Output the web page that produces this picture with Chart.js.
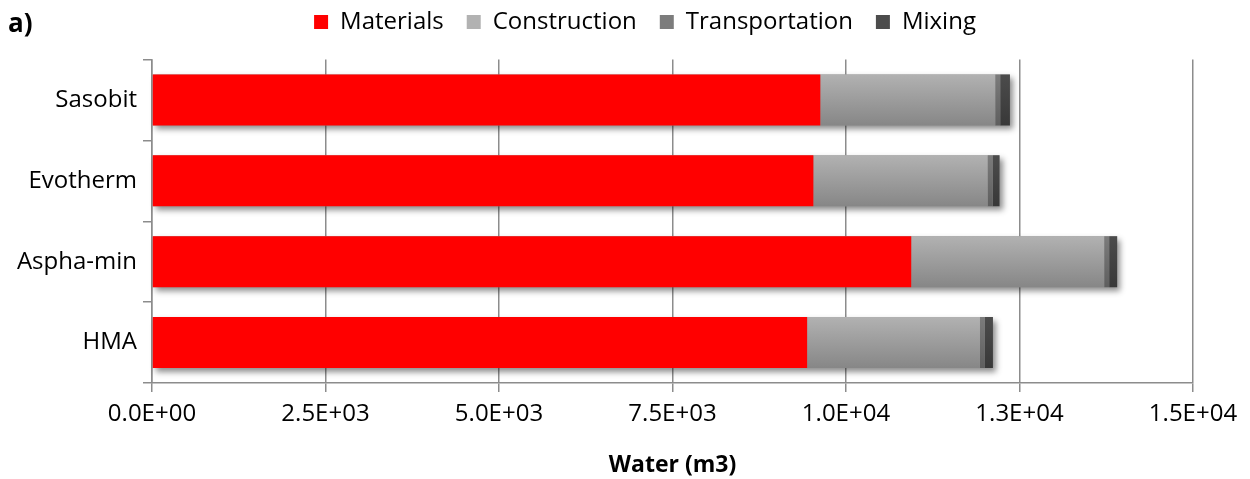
<!DOCTYPE html>
<html>
<head>
<meta charset="utf-8">
<script src="https://cdn.jsdelivr.net/npm/chart.js@4.4.1/dist/chart.umd.min.js"></script>
<style>
    body { margin: 0; background: #fff; }
    .wrap { position: relative; width: 1250px; height: 479px; }
    .panel { position: absolute; left: 8px; top: 4px; font: bold 26px 'Open Sans', sans-serif; color: #000; }
</style>
</head>
<body>
<div class="wrap">
    <canvas id="chart" width="1250" height="479"></canvas>
    <div class="panel">a)</div>
</div>
<script>
const categories = ['Sasobit', 'Evotherm', 'Aspha-min', 'HMA'];

const materials = [9630, 9530, 10940, 9440];
const construction = [2520, 2510, 2780, 2490];
const transportation = [72, 72, 72, 72];
const mixing = [140, 100, 115, 115];

const FONT = "'Open Sans', sans-serif";
const AXIS_GREY = '#8c8c8c';

// vertical shading for the grey segments, one gradient per bar
const shaded = (top, bottom, flat) => (context) => {
    const { chart, dataIndex } = context;
    if (dataIndex === undefined || !chart.chartArea) return flat;
    const y = chart.scales.y.getPixelForValue(dataIndex);
    const g = chart.ctx.createLinearGradient(0, y - 26, 0, y + 26);
    g.addColorStop(0, top);
    g.addColorStop(1, bottom);
    return g;
};

// soft drop shadow behind each full stacked bar
const barShadow = {
    id: 'barShadow',
    beforeDatasetsDraw(chart) {
        const first = chart.getDatasetMeta(0).data;
        const last = chart.getDatasetMeta(chart.data.datasets.length - 1).data;
        const ctx = chart.ctx;
        ctx.save();
        ctx.shadowColor = 'rgba(0, 0, 0, 0.45)';
        ctx.shadowBlur = 6;
        ctx.shadowOffsetX = 3;
        ctx.shadowOffsetY = 4;
        ctx.fillStyle = '#999';
        first.forEach((bar, i) => {
            const h = bar.height;
            ctx.fillRect(bar.base, bar.y - h / 2, last[i].x - bar.base, h);
        });
        ctx.restore();
    }
};

// fixed legend band height, and nudge the legend row to the right
const legendBand = {
    id: 'legendBand',
    beforeInit(chart) {
        const fit = chart.legend.fit;
        chart.legend.fit = function () {
            fit.bind(this)();
            this.height = 72.5;
        };
    },
    afterLayout(chart) {
        chart.legend.left += 48.5;
        chart.legend.right += 48.5;
    }
};

const formatSci = (value) => {
    const [mant, exp] = Number(value).toExponential(1).split('e');
    const e = parseInt(exp, 10);
    return mant + 'E' + (e < 0 ? '-' : '+') + String(Math.abs(e)).padStart(2, '0');
};

new Chart(document.getElementById('chart'), {
    type: 'bar',
    data: {
        labels: categories,
        datasets: [
            { label: 'Materials', data: materials, backgroundColor: '#ff0000' },
            { label: 'Construction', data: construction, backgroundColor: shaded('#b2b2b2', '#868686', '#a2a2a2') },
            { label: 'Transportation', data: transportation, backgroundColor: shaded('#7c7c7c', '#5e5e5e', '#727272') },
            { label: 'Mixing', data: mixing, backgroundColor: shaded('#4c4c4c', '#383838', '#444444') }
        ]
    },
    options: {
        indexAxis: 'y',
        responsive: false,
        animation: false,
        categoryPercentage: 1,
        barPercentage: 0.63,
        layout: { padding: { left: 0, right: 57, top: -13, bottom: 0 } },
        plugins: {
            legend: {
                position: 'top',
                labels: {
                    boxWidth: 14,
                    boxHeight: 14,
                    padding: 23,
                    color: '#000',
                    font: { family: FONT, size: 24 }
                }
            },
            tooltip: { enabled: false }
        },
        scales: {
            x: {
                stacked: true,
                min: 0,
                max: 15000,
                afterFit: (scale) => { scale.height = 96; },
                ticks: {
                    stepSize: 2500,
                    padding: 8,
                    color: '#000',
                    font: { family: FONT, size: 24 },
                    callback: (v) => formatSci(v)
                },
                grid: { color: AXIS_GREY, lineWidth: 1.5, tickLength: 9 },
                border: { color: AXIS_GREY, width: 1.5 },
                title: {
                    display: true,
                    text: 'Water (m3)',
                    color: '#000',
                    padding: { top: 4, bottom: 0 },
                    font: { family: FONT, size: 23, weight: 'bold' }
                }
            },
            y: {
                stacked: true,
                afterFit: (scale) => { scale.width = 152; },
                ticks: {
                    padding: 6,
                    color: '#000',
                    font: { family: FONT, size: 24 }
                },
                grid: { drawOnChartArea: false, color: AXIS_GREY, lineWidth: 1.5, tickLength: 9, offset: true },
                border: { color: AXIS_GREY, width: 1.5 }
            }
        }
    },
    plugins: [barShadow, legendBand]
});
</script>
</body>
</html>
